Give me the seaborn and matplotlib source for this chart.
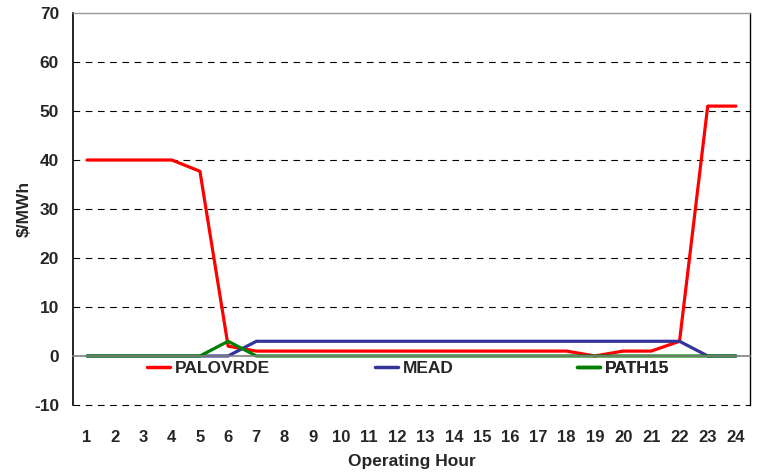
import matplotlib
matplotlib.use("Agg")
import matplotlib.pyplot as plt
import seaborn as sns
import pandas as pd
from matplotlib.ticker import FixedLocator

hours = list(range(1, 25))
palovrde = [40, 40, 40, 40, 37.7, 2, 1, 1, 1, 1, 1, 1, 1, 1, 1, 1, 1, 1, 0, 1, 1, 3, 51, 51]
mead = [0, 0, 0, 0, 0, 0, 3, 3, 3, 3, 3, 3, 3, 3, 3, 3, 3, 3, 3, 3, 3, 3, 0, 0]
path15 = [0, 0, 0, 0, 0, 3, 0, 0, 0, 0, 0, 0, 0, 0, 0, 0, 0, 0, 0, 0, 0, 0, 0, 0]
series_names = ["PALOVRDE", "MEAD", "PATH15"]
colors = ["#FF0000", "#333399", "#008000"]
yticks = list(range(-10, 71, 10))

df = pd.DataFrame({
    "hour": hours * 3,
    "value": palovrde + mead + path15,
    "series": [series_names[0]] * 24 + [series_names[1]] * 24 + [series_names[2]] * 24,
})

sns.set_style("white")
plt.rcParams['font.family'] = ['Liberation Sans', 'DejaVu Sans']
plt.rcParams['font.weight'] = 'bold'

fig = plt.figure(figsize=(7.57, 4.73), dpi=100)
ax = fig.add_axes([0.0964, 0.1438, 0.8944, 0.8287])

sns.lineplot(data=df, x="hour", y="value", hue="series", hue_order=series_names,
             palette=colors, linewidth=2.3, ax=ax, legend=True)

ax.set_xlim(0.5, 24.5)
ax.set_ylim(-10, 70)
ax.set_yticks(yticks)
ax.set_yticklabels([str(v) for v in yticks], fontsize=12.5, fontweight='bold')

# horizontal dashed grid
for v in yticks:
    if v == 0 or v == 70:
        continue
    ax.axhline(v, color='black', linestyle=(0, (6, 5)), linewidth=0.8, zorder=0, clip_on=False)

# spines
ax.spines['bottom'].set_position(('data', 0))
ax.spines['bottom'].set_color('#808080')
ax.spines['bottom'].set_linewidth(1.2)
ax.spines['left'].set_color('black')
ax.spines['left'].set_linewidth(1.2)
ax.spines['top'].set_color('#999999')
ax.spines['top'].set_linewidth(1.0)
ax.spines['right'].set_color('black')
ax.spines['right'].set_linewidth(1.0)
for s in ax.spines.values():
    s.set_visible(True)

# x ticks: labels far below, marks at boundaries
ax.set_xticks(hours)
ax.set_xticklabels([str(h) for h in hours], fontsize=12, fontweight='bold')
ax.tick_params(axis='x', which='major', length=0, pad=53)
ax.xaxis.set_minor_locator(FixedLocator([h + 0.5 for h in hours[:-1]]))
ax.tick_params(axis='x', which='minor', length=4, width=1, color='#808080', direction='out')
ax.tick_params(axis='y', length=6, width=1, color='#808080', direction='out', pad=4)

ax.set_xlabel("Operating Hour", fontsize=12.5, fontweight='bold')
ax.xaxis.set_label_coords(0.5, -0.124)
ax.set_ylabel("$/MWh", fontsize=12.5, fontweight='bold')
ax.yaxis.set_label_coords(-0.061, 0.5)

handles, labels = ax.get_legend_handles_labels()
ax.get_legend().remove()
leg_x = [0.109, 0.446, 0.744]
for h, lab, x in zip(handles, labels, leg_x):
    leg = ax.legend([h], [lab], loc='center left', bbox_to_anchor=(x, 0.092), frameon=False,
                    handlelength=1.32, handletextpad=0.3, borderaxespad=0, borderpad=0,
                    prop={'weight': 'bold', 'size': 12.5})
    for line in leg.get_lines():
        line.set_linewidth(2.5)
    ax.add_artist(leg)

fig.savefig("out.png", dpi=100)
